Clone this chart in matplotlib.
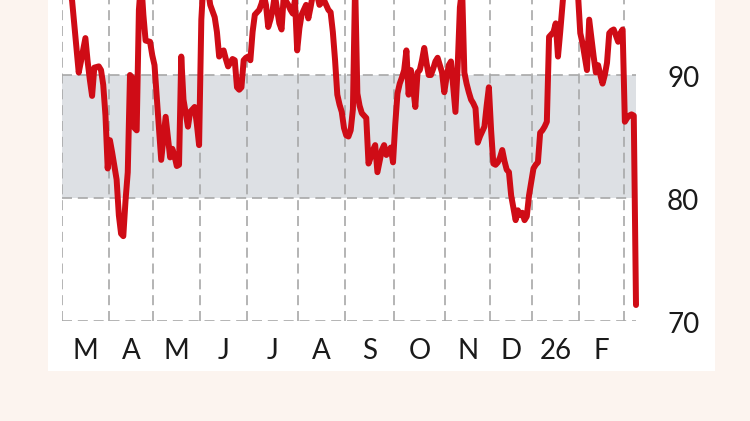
import numpy as np
import pandas as pd
import matplotlib
matplotlib.use("Agg")
import matplotlib.pyplot as plt
from matplotlib.patches import Rectangle

# daily readings, one dict per month: {day: value}
m2503 = {3: 98.1, 7: 96.1, 12: 90.2, 13: 91.1, 17: 93.0, 18: 91.1, 19: 89.6,
         20: 88.3, 21: 90.6, 25: 90.7, 26: 90.4, 27: 89.2, 28: 86.7, 31: 82.4}
m2504 = {1: 84.7, 2: 83.7, 4: 81.5, 7: 78.6, 8: 77.1, 9: 76.9, 10: 79.8,
         11: 82.1, 14: 90.0, 15: 89.8, 16: 85.7, 17: 85.5, 22: 95.3, 23: 97.7,
         24: 94.9, 25: 92.8, 29: 92.7, 30: 91.6}
m2505 = {1: 90.8, 6: 83.1, 8: 86.6, 12: 83.3, 13: 84.0, 14: 83.4, 15: 82.6,
         16: 82.7, 19: 91.5, 20: 88.0, 22: 85.8, 23: 87.0, 27: 87.2, 28: 87.4,
         29: 86.0, 30: 84.3}
m2506 = {2: 94.5, 3: 97.7, 4: 97.5, 5: 96.9, 6: 95.7, 9: 95.2, 10: 94.7,
         11: 93.5, 12: 91.5, 13: 91.8, 16: 92.0, 17: 91.3, 18: 90.7, 19: 91.0,
         20: 91.3, 23: 91.2, 24: 89.0, 25: 88.8, 26: 89.0, 27: 91.2, 30: 91.4}
m2507 = {1: 91.5, 2: 91.2, 3: 93.5, 4: 94.9, 7: 95.1, 8: 95.3, 9: 95.8,
         10: 96.5, 11: 95.7, 14: 93.9, 15: 94.5, 16: 95.3, 17: 96.5, 18: 95.3,
         21: 94.2, 22: 93.7, 23: 96.5, 24: 96.0, 25: 95.7, 28: 95.3, 29: 95.0,
         30: 96.1, 31: 92.0}
m2508 = {1: 93.8, 4: 94.9, 5: 95.3, 6: 95.7, 7: 94.6, 8: 95.5, 11: 96.5,
         12: 96.8, 13: 96.5, 14: 95.7, 15: 95.9, 18: 96.1, 19: 95.7, 20: 95.3,
         21: 95.1, 22: 93.5, 25: 91.2, 26: 88.4, 27: 87.6, 28: 87.0, 29: 85.7}
m2509 = {1: 85.1, 2: 85.0, 3: 85.5, 4: 87.2, 5: 97.5, 8: 88.5, 9: 87.5,
         10: 86.9, 11: 86.7, 12: 86.5, 15: 82.8, 16: 83.3, 17: 83.9, 18: 84.3,
         19: 82.1, 22: 83.0, 23: 83.9, 24: 84.3, 25: 83.5, 26: 83.8, 29: 84.1,
         30: 82.9}
m2510 = {1: 86.0, 2: 88.5, 3: 89.3, 6: 89.8, 7: 90.4, 8: 92.0, 9: 88.4,
         10: 90.4, 13: 89.0, 14: 87.4, 15: 90.2, 16: 90.4, 17: 91.2, 20: 92.2,
         21: 91.0, 22: 90.0, 23: 90.0, 24: 90.5, 27: 91.1, 28: 91.4, 29: 90.8,
         30: 90.2, 31: 88.6}
m2511 = {3: 89.8, 4: 90.8, 5: 91.1, 6: 89.0, 7: 87.0, 10: 90.7, 11: 95.5,
         12: 97.0, 13: 90.2, 14: 89.3, 17: 88.6, 18: 88.0, 19: 87.7, 20: 87.3,
         21: 84.5, 24: 85.0, 25: 85.4, 26: 85.8, 27: 87.5, 28: 89.0}
m2512 = {1: 85.5, 2: 82.8, 3: 82.7, 4: 82.9, 5: 83.3, 8: 83.9, 9: 83.0,
         10: 82.3, 11: 82.1, 12: 80.2, 15: 79.2, 16: 78.2, 17: 79.0, 18: 78.6,
         19: 78.8, 22: 78.2, 23: 78.5, 29: 80.2, 30: 81.3}
m2601 = {2: 82.4, 5: 82.7, 6: 82.9, 7: 85.3, 8: 85.5, 9: 85.8, 12: 86.2,
         13: 93.1, 14: 93.3, 15: 93.5, 16: 94.2, 19: 91.5, 20: 93.5, 21: 95.7,
         22: 97.7, 23: 98.2, 26: 98.0, 27: 98.1, 28: 97.8, 29: 97.3, 30: 96.5}
m2602 = {2: 93.4, 3: 92.6, 4: 91.5, 5: 90.4, 6: 94.5, 9: 93.0, 10: 91.5,
         11: 90.2, 12: 90.8, 13: 90.0, 16: 89.3, 17: 90.0, 18: 91.0, 19: 93.4,
         20: 93.6, 23: 93.7, 24: 93.2, 25: 92.7, 26: 93.4, 27: 93.7}
m2603 = {2: 86.2, 3: 86.5, 4: 86.7, 5: 86.8, 6: 86.7, 9: 71.3}

months = [("2025-03", m2503), ("2025-04", m2504), ("2025-05", m2505),
          ("2025-06", m2506), ("2025-07", m2507), ("2025-08", m2508),
          ("2025-09", m2509), ("2025-10", m2510), ("2025-11", m2511),
          ("2025-12", m2512), ("2026-01", m2601), ("2026-02", m2602),
          ("2026-03", m2603)]

month_labels = ["M", "A", "M", "J", "J", "A", "S", "O", "N", "D", "26", "F"]
y_labels = [90, 80, 70]
band = (80, 90)

holidays = ["2025-04-18", "2025-04-21", "2025-05-26", "2025-12-24",
            "2025-12-25", "2025-12-26", "2025-12-31", "2026-01-01"]

# trading-day axis
days = pd.bdate_range("2025-03-03", "2026-03-09")
days = days[~days.isin(pd.to_datetime(holidays))]

dts, vals = [], []
for ym, d in months:
    for day, v in d.items():
        dts.append(pd.Timestamp(f"{ym}-{day:02d}"))
        vals.append(v)
x = days.get_indexer(pd.DatetimeIndex(dts), method="nearest")

firsts = np.r_[0, np.flatnonzero(np.diff(days.month) != 0) + 1]
bounds = firsts - 0.5
centers = (bounds[:-1] + bounds[1:]) / 2

W, H = 750, 421
fig = plt.figure(figsize=(W / 100, H / 100), dpi=100, facecolor="#fcf4ef")
fig.add_artist(Rectangle((48 / W, 1 - 371 / H), (715 - 48) / W, 371 / H,
                         transform=fig.transFigure, facecolor="white",
                         edgecolor="none", zorder=0))

ax = fig.add_axes([62 / W, 1 - 321 / H, (636 - 62) / W, 321 / H])
ax.set_facecolor("none")
for s in ax.spines.values():
    s.set_visible(False)
ax.set_xticks([])
ax.set_yticks([])
ax.set_xlim(-0.5, len(days) - 1)
ax.set_ylim(70, 70 + 321 / 12.3)

grid_kw = dict(color="#a8a8a8", lw=1.2, ls=(0, (6, 3.5)), zorder=1)
ax.axhspan(*band, color="#dde0e4", lw=0, zorder=0)
for yv in y_labels:
    ax.axhline(yv, **grid_kw)
for bx in bounds:
    ax.axvline(bx, **grid_kw)

ax.plot(x, vals, color="#cf0c16", lw=4.3, solid_joinstyle="round",
        solid_capstyle="round", zorder=3, clip_on=False)

font = dict(family="Lato", fontsize=20, color="#1a1a1a")
for c, lab in zip(centers, month_labels):
    ax.text(c, -38 / 321, lab, transform=ax.get_xaxis_transform(),
            ha="center", va="baseline", **font)
for yv in y_labels:
    ax.annotate(str(yv), xy=(1 + 31 / 574, yv), xycoords=ax.get_yaxis_transform(),
                xytext=(0, -8.3), textcoords="offset points",
                ha="left", va="baseline", **font)

fig.savefig("out.png", dpi=100, facecolor=fig.get_facecolor())
